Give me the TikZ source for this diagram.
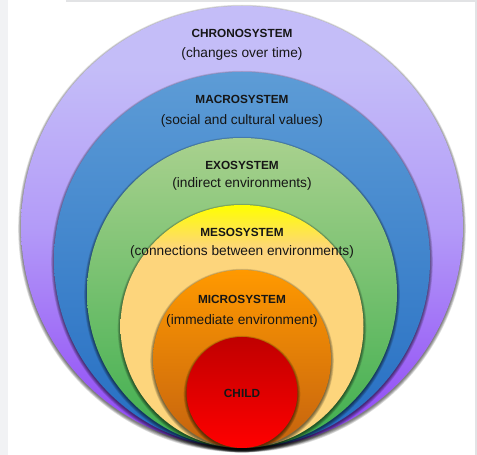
\documentclass[tikz,border=0pt]{standalone}
\usepackage{fontspec}
\setmainfont{Liberation Sans}
\usepackage{xcolor}
\usetikzlibrary{positioning,calc}

\definecolor{chrtop}{HTML}{C4BDF8}
\definecolor{chrmid}{HTML}{B39BF8}
\definecolor{chrbot}{HTML}{8E43F5}
\definecolor{mactop}{HTML}{5D9CD6}
\definecolor{macbot}{HTML}{246DC2}
\definecolor{exotop}{HTML}{A9D18E}
\definecolor{exobot}{HTML}{3DAE4D}
\definecolor{mestop}{HTML}{FFFF00}
\definecolor{mesbot}{HTML}{FDD57C}
\definecolor{mictop}{HTML}{FF9900}
\definecolor{micbot}{HTML}{C4620F}
\definecolor{chitop}{HTML}{C00000}
\definecolor{chibot}{HTML}{FF0000}
\definecolor{pagegray}{HTML}{F1F2F4}
\definecolor{framegray}{HTML}{E2E3E5}
\definecolor{txt}{HTML}{161616}

\pgfdeclareverticalshading{chronoshade}{100bp}{color(0bp)=(chrbot); color(25bp)=(chrbot); color(50bp)=(chrmid); color(68bp)=(chrtop); color(100bp)=(chrtop)}
\pgfdeclareverticalshading{macroshade}{100bp}{color(0bp)=(macbot); color(25bp)=(macbot); color(75bp)=(mactop); color(100bp)=(mactop)}
\pgfdeclareverticalshading{exoshade}{100bp}{color(0bp)=(exobot); color(25bp)=(exobot); color(75bp)=(exotop); color(100bp)=(exotop)}
\pgfdeclareverticalshading{mesoshade}{100bp}{color(0bp)=(mesbot); color(66bp)=(mesbot); color(75bp)=(mestop); color(100bp)=(mestop)}
\pgfdeclareverticalshading{microshade}{100bp}{color(0bp)=(micbot); color(25bp)=(micbot); color(75bp)=(mictop); color(100bp)=(mictop)}
\pgfdeclareverticalshading{childshade}{100bp}{color(0bp)=(chibot); color(25bp)=(chibot); color(75bp)=(chitop); color(100bp)=(chitop)}

\begin{document}
\begin{tikzpicture}[x=1pt,y=1pt,
    ttl/.style={font=\fontsize{11.8}{13}\selectfont\bfseries, text=txt},
    sub/.style={font=\fontsize{13.7}{16}\selectfont, text=txt}]
  \useasboundingbox (0,0) rectangle (477,455);
  \fill[pagegray] (0,0) rectangle (8,455);
  \draw[framegray, line width=1.2pt] (66,454) -- (476,454) -- (476,0);

  % rings, outer to inner, all touching at the bottom
  \foreach \r/\sh in {221/chronoshade,188/macroshade,155/exoshade,121.5/mesoshade,89/microshade,55.5/childshade}{
    \foreach \k in {0,...,4}
      \fill[black, opacity=.13] (242,{7+\r-1.6}) circle[radius=\r pt+\k*0.7pt];
    \shade[shading=\sh] (242,{7+\r}) circle[radius=\r pt];
  }

  \node[ttl] (chrono) at (242,422) {CHRONOSYSTEM};
  \node[sub] (chronosub) at (242,401) {(changes over time)};
  \node[ttl] (macro) at (242,356) {MACROSYSTEM};
  \node[sub] (macrosub) at (242,334) {(social and cultural values)};
  \node[ttl] (exo) at (242,290) {EXOSYSTEM};
  \node[sub] (exosub) at (242,271) {(indirect environments)};
  \node[ttl] (meso) at (242,223) {MESOSYSTEM};
  \node[sub] (mesosub) at (242,203) {(connections between environments)};
  \node[ttl] (micro) at (242,156) {MICROSYSTEM};
  \node[sub] (microsub) at (242,134) {(immediate environment)};
  \node[ttl] (child) at (242,62) {CHILD};
\end{tikzpicture}
\end{document}
